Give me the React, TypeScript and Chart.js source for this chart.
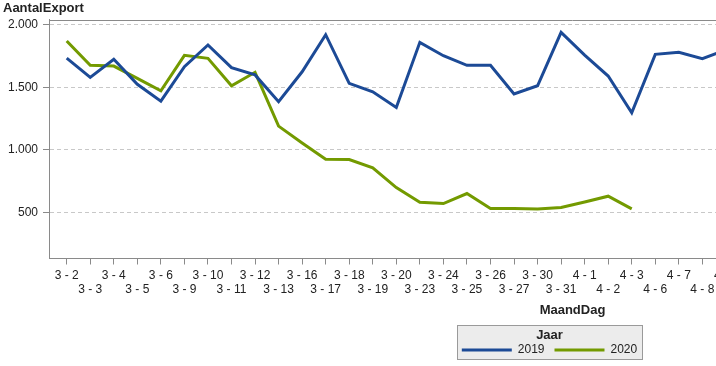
import React, { useEffect, useRef } from "react";
import { Chart, registerables } from "chart.js";

Chart.register(...registerables);
Chart.defaults.font.family = "'Liberation Sans', Arial, sans-serif";
Chart.defaults.color = "#222";

const CATEGORIES = [
  "3 - 2", "3 - 3", "3 - 4", "3 - 5", "3 - 6", "3 - 9", "3 - 10", "3 - 11", "3 - 12", "3 - 13",
  "3 - 16", "3 - 17", "3 - 18", "3 - 19", "3 - 20", "3 - 23", "3 - 24", "3 - 25", "3 - 26", "3 - 27",
  "3 - 30", "3 - 31", "4 - 1", "4 - 2", "4 - 3", "4 - 6", "4 - 7", "4 - 8", "4 - 9",
];
const SERIES_2019 = [
  1735, 1580, 1725, 1525, 1390, 1666, 1840, 1658, 1600, 1385,
  1625, 1922, 1532, 1465, 1340, 1861, 1754, 1677, 1677, 1447,
  1513, 1941, 1759, 1591, 1297, 1765, 1781, 1730, 1800,
];
const SERIES_2020 = [
  1872, 1677, 1671, 1573, 1473, 1757, 1733, 1513, 1621, 1190,
  1055, 925, 922, 856, 698, 580, 570, 650, 530, 530,
  527, 538, 583, 629, 527, null, null, null, null,
];
const SERIES_NAMES = ["2019", "2020"];
const Y_TICKS = [500, 1000, 1500, 2000];

const COLOR_2019 = "#1c4a96";
const COLOR_2020 = "#739a00";
const AXIS_COLOR = "#8a8a8a";

const fmt = (v: number) => String(v).replace(/\B(?=(\d{3})+(?!\d))/g, ".");

const framePlugin = {
  id: "frameAndLegendBox",
  beforeDraw(chart: any) {
    const lg = chart.legend;
    const ctx = chart.ctx;
    if (lg && lg.legendHitBoxes && lg.legendHitBoxes.length) {
      const hb = lg.legendHitBoxes;
      const last = hb[hb.length - 1];
      const left = Math.round(hb[0].left - 5) + 0.5;
      const right = Math.round(last.left + last.width + 5) + 0.5;
      const top = Math.round(lg.top) + 0.5;
      ctx.save();
      ctx.fillStyle = "#ececec";
      ctx.fillRect(left, top, right - left, 34);
      ctx.strokeStyle = "#9a9a9a";
      ctx.lineWidth = 1;
      ctx.strokeRect(left, top, right - left, 34);
      ctx.restore();
    }
  },
  afterDraw(chart: any) {
    const { ctx, chartArea } = chart;
    ctx.save();
    ctx.strokeStyle = AXIS_COLOR;
    ctx.lineWidth = 1;
    ctx.beginPath();
    const y = Math.round(chartArea.top) + 0.5;
    ctx.moveTo(chartArea.left, y);
    ctx.lineTo(chartArea.right, y);
    ctx.stroke();
    ctx.restore();
  },
};

export default function App() {
  const ref = useRef<HTMLCanvasElement>(null);
  useEffect(() => {
    const canvas = ref.current!;
    const toPoints = (arr: (number | null)[]) => arr.map((v, i) => ({ x: i, y: v }));
    const chart = new Chart(canvas, {
      type: "line",
      data: {
        datasets: [
          {
            label: SERIES_NAMES[0],
            data: toPoints(SERIES_2019) as any,
            borderColor: COLOR_2019,
            backgroundColor: COLOR_2019,
            borderWidth: 3,
            pointRadius: 0,
            tension: 0,
          },
          {
            label: SERIES_NAMES[1],
            data: toPoints(SERIES_2020) as any,
            borderColor: COLOR_2020,
            backgroundColor: COLOR_2020,
            borderWidth: 3,
            pointRadius: 0,
            tension: 0,
          },
        ],
      },
      options: {
        responsive: false,
        animation: false,
        devicePixelRatio: 1,
        layout: { padding: { left: 3, right: 1, top: 0, bottom: 0 } },
        plugins: {
          tooltip: { enabled: false },
          title: {
            display: true,
            text: "AantalExport",
            align: "start",
            color: "#222",
            font: { size: 13, weight: "bold" },
            padding: { top: 1, bottom: 3 },
          },
          legend: {
            display: true,
            position: "bottom",
            title: {
              display: true,
              text: "Jaar",
              color: "#222",
              font: { size: 13, weight: "bold" },
              padding: { top: 4, bottom: -10.1 } as any,
            },
            labels: {
              color: "#222",
              font: { size: 12 },
              boxWidth: 50,
              boxHeight: 3,
              padding: 10,
              generateLabels: (ch: any) =>
                (Chart.defaults.plugins.legend.labels.generateLabels as any)(ch).map((l: any) => ({
                  ...l,
                  lineWidth: 0,
                  fillStyle: l.strokeStyle,
                })),
            },
          },
        },
        scales: {
          x: {
            type: "linear",
            min: -0.752,
            max: 43.72,
            afterBuildTicks: (s: any) => {
              s.ticks = CATEGORIES.map((_, i) => ({ value: i }));
            },
            afterFit: (s: any) => {
              s.height = 66;
            },
            ticks: {
              autoSkip: false,
              maxRotation: 0,
              minRotation: 0,
              padding: 4,
              color: "#222",
              font: { size: 12, lineHeight: 14 / 12 },
              callback: (value: any, index: number) => {
                const label = CATEGORIES[Math.round(value)] ?? "";
                return index % 2 === 0 ? label : ["", label];
              },
            },
            grid: {
              drawOnChartArea: false,
              drawTicks: true,
              tickLength: 6,
              tickColor: AXIS_COLOR,
            },
            border: { display: true, color: AXIS_COLOR },
            title: {
              display: true,
              text: "MaandDag",
              color: "#222",
              font: { size: 13, weight: "bold" },
              padding: { top: 0, bottom: 6.2 },
            },
          },
          y: {
            type: "linear",
            min: 130,
            max: 2043,
            afterBuildTicks: (s: any) => {
              s.ticks = Y_TICKS.map((v) => ({ value: v }));
            },
            afterFit: (s: any) => {
              s.width = 46;
            },
            ticks: {
              padding: 5,
              color: "#222",
              font: { size: 12 },
              callback: (value: any) => fmt(Number(value)),
            },
            grid: {
              color: "#c8c8c8",
              drawTicks: true,
              tickLength: 6,
              tickColor: AXIS_COLOR,
            },
            border: { display: true, color: AXIS_COLOR, dash: [4, 3] },
          },
        },
      },
      plugins: [framePlugin],
    });
    return () => chart.destroy();
  }, []);
  return (
    <div
      style={{
        position: "absolute",
        left: 0,
        top: 0,
        width: 716,
        height: 366,
        overflow: "hidden",
        background: "#fff",
      }}
    >
      <canvas ref={ref} width={1097} height={366} style={{ display: "block", width: 1097, height: 366 }} />
    </div>
  );
}
